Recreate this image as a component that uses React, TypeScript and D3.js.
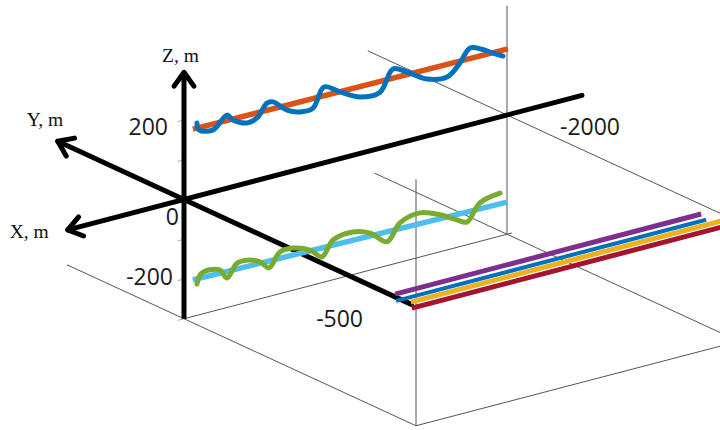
import React from 'react';
import * as d3 from 'd3';

// axis extents (data units, m)
const xAxisRange = [720, -2464];
const yAxisRange = [272, -490];
const zAxisRange = [-300, 320];

const zTicks = [300, 200, 100, -100, -200, -300];
const zTickLabels = [200, 0, -200];
const xTickLabels = [-2000];
const yTickLabels = [-500];

// reference frame lines [X0, Y0, Z0, X1, Y1, Z1]
const frameLines = [
  [-2000, 0, -300, -2000, 0, 275],
  [0, -500, -300, 0, -500, 320],
  [0, 252, -300, 0, -500, -300],
  [0, 0, -300, -2030, 0, -300],
  [0, -500, -300, -2100, -500, -300],
  [-2000, 300, 0, -2000, -560, 0],
  [-2000, 285, -300, -2000, -560, -300],
];

// upper trajectory: straight axis and helix around it
const orangeX = [-55, -2005];
const orangeZ = [171, 166];
const blueX = [-80, -93, -180, -266, -303, -390, -452, -514, -551, -638, -718, -799, -867, -966, -1090, -1214, -1294, -1381, -1505, -1628, -1709, -1771, -1845, -1913, -1975];
const blueZ = [184, 165, 156, 184, 168, 151, 157, 188, 187, 157, 144, 145, 191, 168, 142, 141, 191, 174, 143, 135, 162, 193, 182, 165, 151];

// lower trajectory
const cyanX = [-55, -2000];
const cyanZ = [-208, -219];
const greenX = [-80, -105, -161, -223, -266, -328, -390, -471, -526, -594, -675, -780, -854, -923, -1046, -1152, -1257, -1337, -1461, -1585, -1690, -1752, -1833, -1957];
const greenZ = [-221, -198, -194, -201, -226, -195, -194, -207, -228, -195, -194, -210, -235, -200, -193, -207, -240, -201, -189, -207, -231, -243, -203, -192];

// bundle of four straight lines near Y = -500
const bundleSeries = ['purple', 'blue', 'yellow', 'red'];
const bundleY = [-455, -457, -489, -491];
const bundleZ = [7, -9, 5, -9];
const bundleXEnd = [-1895, -1920, -2100, -2100];

const colors: Record<string, string> = {
  orange: '#D95319',
  blue: '#0072BD',
  cyan: '#4DBEEE',
  green: '#77AC30',
  purple: '#7E2F8E',
  yellow: '#EDB120',
  red: '#A2142F',
};

const W = 720;
const H = 430;
const origin = [184, 199.5];

// oblique projection built from per-axis linear scales
const xPx = d3.scaleLinear().domain([0, -2000]).range([0, 323]);
const xPy = d3.scaleLinear().domain([0, -2000]).range([0, -84.5]);
const yPx = d3.scaleLinear().domain([0, -500]).range([0, 232]);
const yPy = d3.scaleLinear().domain([0, -500]).range([0, 107]);
const zPy = d3.scaleLinear().domain([0, 200]).range([0, -79.5]);

const project = (x: number, y: number, z: number): [number, number] => [
  origin[0] + xPx(x) + yPx(y),
  origin[1] + xPy(x) + yPy(y) + zPy(z),
];

const curve = d3.line<[number, number]>().curve(d3.curveCatmullRom.alpha(0.5));
const straight = d3.line<[number, number]>();

const arrowHead = (from: [number, number], tip: [number, number]) => {
  const a = Math.atan2(tip[1] - from[1], tip[0] - from[0]);
  const len = 17;
  const spread = 0.62;
  const p1: [number, number] = [tip[0] - len * Math.cos(a - spread), tip[1] - len * Math.sin(a - spread)];
  const p2: [number, number] = [tip[0] - len * Math.cos(a + spread), tip[1] - len * Math.sin(a + spread)];
  return straight([p1, tip, p2]) as string;
};

const App = () => {
  const o = project(0, 0, 0);
  const xTip = project(xAxisRange[0], 0, 0);
  const xEnd = project(xAxisRange[1], 0, 0);
  const yTip = project(0, yAxisRange[0], 0);
  const yEnd = project(0, yAxisRange[1], 0);
  const zTip = project(0, 0, zAxisRange[1]);
  const zBottom = project(0, 0, zAxisRange[0]);

  const zLabelOffset: Record<string, [number, number]> = { '200': [-16, 15], '0': [-5, 25], '-200': [-11, 6] };

  const numFont = { fontFamily: '"Open Sans", sans-serif', fontSize: 23, fill: '#1a1a1a' };
  const titleFont = { fontFamily: '"Liberation Serif", "DejaVu Serif", serif', fontSize: 19.5, fill: '#111' };

  return (
    <svg width={W} height={H} style={{ position: 'absolute', left: 0, top: 0, background: '#fff' }}>
      {/* frame lines */}
      <g stroke="#555" strokeWidth={1} fill="none">
        {frameLines.map((l, i) => (
          <path key={i} d={straight([project(l[0], l[1], l[2]), project(l[3], l[4], l[5])]) as string} />
        ))}
      </g>

      {/* z ticks */}
      <g stroke="#aaa" strokeWidth={1}>
        {zTicks.map((t) => (
          <path key={t} d={straight([project(0, 0, t), project(40, 0, t)]) as string} />
        ))}
      </g>

      {/* black axes */}
      <g stroke="#000" strokeWidth={5} fill="none" strokeLinecap="round" strokeLinejoin="round">
        <path d={straight([xTip, xEnd]) as string} />
        <path d={straight([yTip, yEnd]) as string} />
        <path d={straight([zBottom, zTip]) as string} strokeLinecap="butt" />
        <path d={arrowHead(o, xTip)} />
        <path d={arrowHead(o, yTip)} />
        <path d={arrowHead(o, zTip)} />
      </g>

      {/* bundle lines */}
      <g fill="none">
        {bundleSeries.map((s, i) => (
          <path
            key={s}
            d={straight([project(0, bundleY[i], bundleZ[i]), project(bundleXEnd[i], bundleY[i], bundleZ[i])]) as string}
            stroke={colors[s]}
            strokeWidth={s === 'blue' ? 4 : 5}
          />
        ))}
      </g>

      {/* upper trajectory */}
      <path
        d={straight(orangeX.map((x, i) => project(x, 0, orangeZ[i]))) as string}
        stroke={colors.orange}
        strokeWidth={5.5}
        fill="none"
      />
      <path
        d={curve(blueX.map((x, i) => project(x, 0, blueZ[i]))) as string}
        stroke={colors.blue}
        strokeWidth={5}
        fill="none"
        strokeLinecap="round"
        strokeLinejoin="round"
      />

      {/* lower trajectory */}
      <path
        d={straight(cyanX.map((x, i) => project(x, 0, cyanZ[i]))) as string}
        stroke={colors.cyan}
        strokeWidth={5.5}
        fill="none"
      />
      <path
        d={curve(greenX.map((x, i) => project(x, 0, greenZ[i]))) as string}
        stroke={colors.green}
        strokeWidth={5}
        fill="none"
        strokeLinecap="round"
        strokeLinejoin="round"
      />

      {/* tick labels */}
      {zTickLabels.map((t) => {
        const p = project(0, 0, t);
        const off = zLabelOffset[String(t)];
        return (
          <text key={t} x={p[0] + off[0]} y={p[1] + off[1]} textAnchor="end" {...numFont}>
            {t}
          </text>
        );
      })}
      {xTickLabels.map((t) => {
        const p = project(t, 0, 0);
        return (
          <text key={t} x={p[0] + 53} y={p[1] + 20} textAnchor="start" {...numFont}>
            {t}
          </text>
        );
      })}
      {yTickLabels.map((t) => {
        const p = project(0, t, 0);
        return (
          <text key={t} x={p[0] - 53} y={p[1] + 20} textAnchor="end" {...numFont}>
            {t}
          </text>
        );
      })}

      {/* axis titles */}
      <text x={zTip[0] - 22} y={zTip[1] - 10} {...titleFont}>Z, m</text>
      <text x={yTip[0] - 31} y={yTip[1] - 15} {...titleFont}>Y, m</text>
      <text x={xTip[0] - 58} y={xTip[1] + 8} {...titleFont}>X, m</text>
    </svg>
  );
};

export default App;
